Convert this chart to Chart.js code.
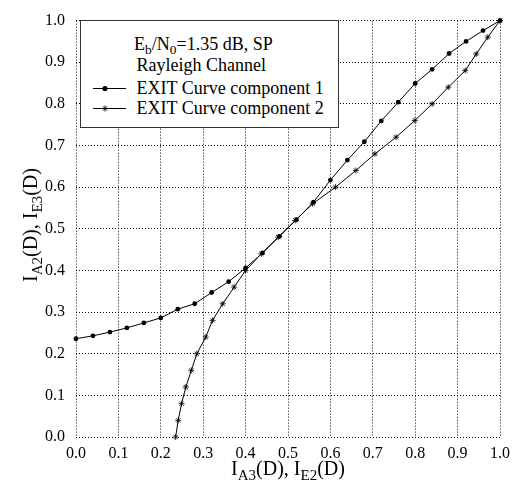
<!DOCTYPE html>
<html>
<head>
<meta charset="utf-8">
<script src="https://cdn.jsdelivr.net/npm/chart.js@4/dist/chart.umd.min.js"></script>
<style>
  html, body { margin: 0; padding: 0; background: #fff; }
  #wrap { position: relative; width: 524px; height: 487px; font-family: "Liberation Serif", "DejaVu Serif", serif; color: #000; }
  #chart { position: absolute; left: 0; top: 0; }
  .txt { position: absolute; white-space: nowrap; font-size: 18px; line-height: 18px; }
  .ttl { position: absolute; white-space: nowrap; font-size: 20px; line-height: 20px; }
  .sub { font-size: 0.75em; position: relative; top: 0.32em; }
  #legendBox { position: absolute; left: 80px; top: 20px; width: 259px; height: 108px; box-sizing: border-box; border: 1.5px solid #333; background: #fff; }
  #legendSym { position: absolute; left: 0; top: 0; }
</style>
</head>
<body>
<div id="wrap">
  <canvas id="chart" width="524" height="487"></canvas>
  <div id="legendBox"></div>
  <svg id="legendSym" width="524" height="487">
    <line x1="93" y1="88.5" x2="126" y2="88.5" stroke="#000" stroke-width="1"/>
    <circle cx="105" cy="88.5" r="2.6" fill="#000"/>
    <line x1="93" y1="108.5" x2="126" y2="108.5" stroke="#000" stroke-width="1"/>
    <g stroke="#000" stroke-width="0.9">
      <line x1="105" y1="105.5" x2="105" y2="111.5"/>
      <line x1="102" y1="108.5" x2="108" y2="108.5"/>
      <line x1="102.9" y1="106.4" x2="107.1" y2="110.6"/>
      <line x1="102.9" y1="110.6" x2="107.1" y2="106.4"/>
    </g>
  </svg>
  <div class="txt" style="left:134px; top:35px;">E<span class="sub">b</span>/N<span class="sub">0</span>=1.35 dB, SP</div>
  <div class="txt" style="left:136.5px; top:55.5px;">Rayleigh Channel</div>
  <div class="txt" style="left:136.5px; top:79px;">EXIT Curve component 1</div>
  <div class="txt" style="left:136.5px; top:99.3px;">EXIT Curve component 2</div>
  <div class="ttl" id="xTitle" style="left:288px; top:458px; transform: translateX(-50%);">I<span class="sub">A3</span>(D), I<span class="sub">E2</span>(D)</div>
  <div class="ttl" id="yTitle" style="left:31px; top:225px; transform: translate(-50%, -50%) rotate(-90deg);">I<span class="sub">A2</span>(D), I<span class="sub">E3</span>(D)</div>
</div>
<script>
// ------ dados das curvas EXIT ------
const comp1X = [0.00, 0.04, 0.08, 0.12, 0.16, 0.20, 0.24, 0.28, 0.32, 0.36, 0.40, 0.44, 0.48,
                0.52, 0.56, 0.60, 0.64, 0.68, 0.72, 0.76, 0.80, 0.84, 0.88, 0.92, 0.96, 1.00];
const comp1Y = [0.236, 0.243, 0.252, 0.262, 0.274, 0.286, 0.307, 0.320, 0.347, 0.373, 0.406, 0.442, 0.482,
                0.522, 0.564, 0.617, 0.665, 0.709, 0.759, 0.804, 0.849, 0.883, 0.921, 0.950, 0.976, 1.000];

const comp2X = [0.235, 0.241, 0.249, 0.259, 0.272, 0.285, 0.306, 0.322, 0.346, 0.373, 0.400, 0.437, 0.477,
                0.517, 0.558, 0.612, 0.660, 0.705, 0.755, 0.799, 0.840, 0.878, 0.918, 0.944, 0.971, 1.000];
const comp2Y = [0.00, 0.04, 0.08, 0.12, 0.16, 0.20, 0.24, 0.28, 0.32, 0.36, 0.40, 0.44, 0.48,
                0.52, 0.56, 0.60, 0.64, 0.68, 0.72, 0.76, 0.80, 0.84, 0.88, 0.92, 0.96, 1.00];

const tickValues = [0.0, 0.1, 0.2, 0.3, 0.4, 0.5, 0.6, 0.7, 0.8, 0.9, 1.0];

const seriesNames = ['EXIT Curve component 1', 'EXIT Curve component 2'];

function toPoints(xs, ys) {
  return xs.map((x, i) => ({ x: x, y: ys[i] }));
}

const tickFont = { family: 'Liberation Serif', size: 16 };

function axis(padding, fitKey, fitSize) {
  return {
    type: 'linear',
    min: 0,
    max: 1,
    afterBuildTicks: scale => { scale.ticks = tickValues.map(v => ({ value: v })); },
    afterFit: scale => { scale[fitKey] = fitSize; },
    // grade pontilhada (no v4 o tracejado fica em border.dash)
    border: { display: false, dash: [1, 2] },
    grid: {
      color: '#000',
      lineWidth: 1,
      drawTicks: false
    },
    ticks: {
      color: '#000',
      font: tickFont,
      padding: padding,
      maxRotation: 0,
      autoSkip: false,
      callback: v => Number(v).toFixed(1)
    }
  };
}

var ctx = document.getElementById('chart');

var chartExit = new Chart(ctx, {
  type: 'line',
  data: {
    datasets: [{
      label: seriesNames[0],
      data: toPoints(comp1X, comp1Y),
      borderColor: '#000',
      backgroundColor: '#000',
      borderWidth: 1,
      pointStyle: 'circle',
      pointRadius: 2.4,
      pointBorderWidth: 0,
      tension: 0,
      clip: false
    }, {
      label: seriesNames[1],
      data: toPoints(comp2X, comp2Y),
      borderColor: '#000',
      backgroundColor: '#000',
      borderWidth: 1,
      pointStyle: 'star',
      pointRadius: 3,
      pointBorderWidth: 0.8,
      tension: 0,
      clip: false
    }]
  },
  options: {
    responsive: false,
    animation: false,
    layout: { padding: { top: 14, right: 24, left: 0, bottom: 0 } },
    scales: {
      x: axis(7, 'height', 50),
      y: axis(11, 'width', 76)
    },
    plugins: {
      legend: { display: false },
      tooltip: { enabled: false }
    }
  }
});
</script>
</body>
</html>
